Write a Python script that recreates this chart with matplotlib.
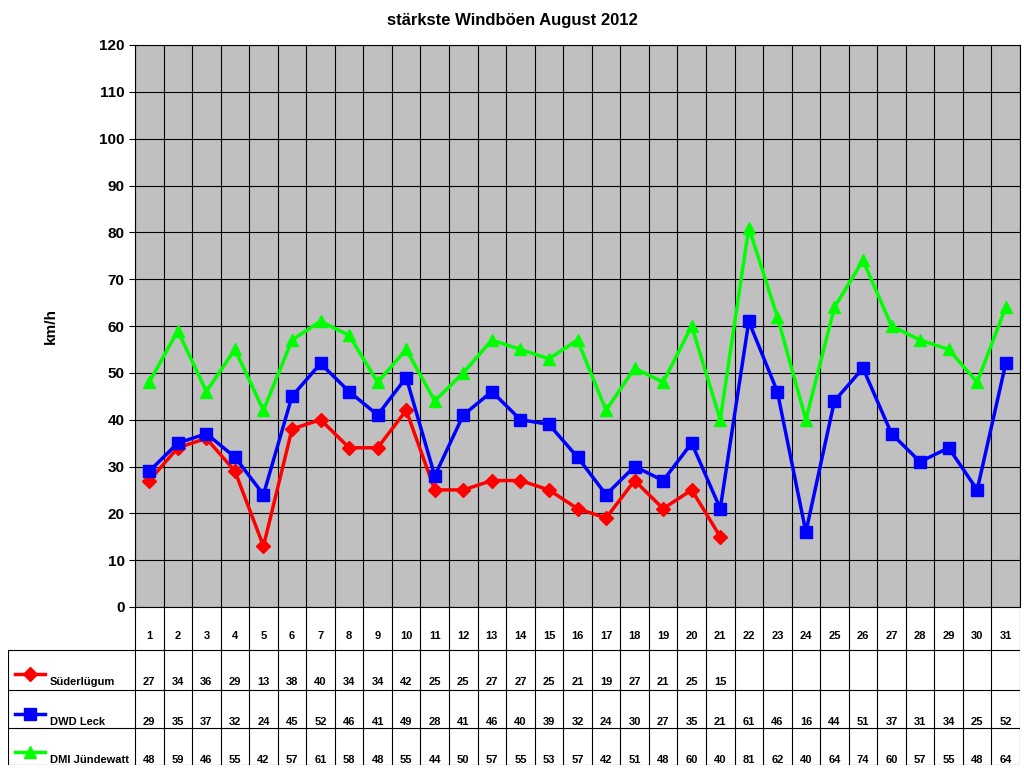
import matplotlib
matplotlib.use("Agg")
import matplotlib.pyplot as plt
import numpy as np

days = list(range(1, 32))
suederluegum = [27, 34, 36, 29, 13, 38, 40, 34, 34, 42, 25, 25, 27, 27, 25, 21, 19, 27, 21, 25, 15]
dwd_leck = [29, 35, 37, 32, 24, 45, 52, 46, 41, 49, 28, 41, 46, 40, 39, 32, 24, 30, 27, 35, 21,
            61, 46, 16, 44, 51, 37, 31, 34, 25, 52]
dmi = [48, 59, 46, 55, 42, 57, 61, 58, 48, 55, 44, 50, 57, 55, 53, 57, 42, 51, 48, 60, 40,
       81, 62, 40, 64, 74, 60, 57, 55, 48, 64]

series = [("Süderlügum", suederluegum, "#FF0000", "D", 7),
          ("DWD Leck", dwd_leck, "#0000FF", "s", 8),
          ("DMI Jündewatt", dmi, "#00FF00", "^", 9)]

W, H = 1024, 768
fig = plt.figure(figsize=(W / 100, H / 100), dpi=100)
plt.rcParams['font.family'] = ['Liberation Sans', 'DejaVu Sans']

x0, x1, y0, y1 = 135, 1020, 45, 607
ax = fig.add_axes([x0 / W, 1 - y1 / H, (x1 - x0) / W, (y1 - y0) / H])
ax.set_facecolor("#C0C0C0")
ax.set_xlim(0.5, 31.5)
ax.set_ylim(0, 120)
ax.set_yticks(range(0, 121, 10))
ax.set_xticks(np.arange(0.5, 32, 1))
ax.set_xticklabels([])
ax.tick_params(axis='x', length=0)
ax.tick_params(axis='y', labelsize=11, length=4)
for t in ax.get_yticklabels():
    t.set_fontweight('bold')
ax.grid(True, color='black', linewidth=0.8)
ax.set_axisbelow(True)
for sp in ax.spines.values():
    sp.set_color('black')
for name, vals, col, mk, ms in series:
    ax.plot(days[:len(vals)], vals, color=col, marker=mk, markersize=ms, linewidth=2.5)
ax.set_ylabel("km/h", fontsize=11, fontweight='bold', labelpad=30)
fig.text(0.5, 1 - 20 / H, "stärkste Windböen August 2012", ha='center', va='center',
         fontsize=12, fontweight='bold')

# data table
tx0, ty1 = 8, 765
tax = fig.add_axes([tx0 / W, 1 - ty1 / H, (x1 - tx0) / W, (ty1 - y1) / H])
tax.set_xlim(tx0, x1)
tax.set_ylim(ty1, y1)
tax.axis('off')
cw = (x1 - x0) / 31
rows = [607, 650, 690, 728, 765]
for i in range(32):
    xx = x0 + i * cw
    tax.plot([xx, xx], [y1, ty1], color='black', lw=0.8)
for r in rows[1:]:
    tax.plot([tx0, x1], [r, r], color='black', lw=0.8)
tax.plot([tx0, tx0], [rows[1], ty1], color='black', lw=0.8)
for d in days:
    tax.text(x0 + (d - 0.5) * cw, 636, str(d), ha='center', va='center', fontsize=8, fontweight='bold')
for k, (name, vals, col, mk, ms) in enumerate(series):
    ytxt = rows[k + 1] + 32
    tax.plot([15, 45], [ytxt - 8, ytxt - 8], color=col, lw=2.5, marker=mk, markersize=ms,
             markevery=[1], clip_on=False) if False else None
    tax.plot([15, 45], [ytxt - 8, ytxt - 8], color=col, lw=2.5)
    tax.plot([30], [ytxt - 8], color=col, marker=mk, markersize=ms)
    tax.text(50, ytxt, name, ha='left', va='center', fontsize=8, fontweight='bold')
    for d, v in zip(days, vals):
        tax.text(x0 + (d - 0.5) * cw, ytxt, str(v), ha='center', va='center', fontsize=8,
                 fontweight='bold')

fig.savefig("out.png", dpi=100)
